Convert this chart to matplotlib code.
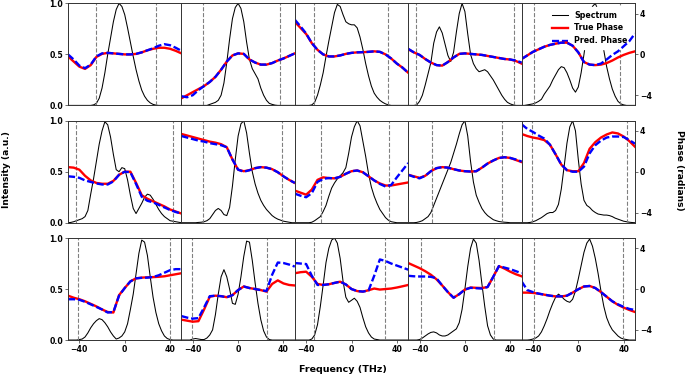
import numpy as np
import matplotlib
matplotlib.use("Agg")
import matplotlib.pyplot as plt
from matplotlib.lines import Line2D

# frequency grids (THz)
freq_spec = np.arange(-50, 50.01, 2.5)    # 41 points
freq_phase = np.arange(-50, 50.01, 5.0)   # 21 points

# ---------------- spectra (normalised intensity) ----------------
spec_00 = [0,0,0,0,0,0,0,0,0,0.005,0.02,0.07,0.17,0.32,0.5,0.66,0.82,0.94,1.0,0.97,0.89,0.76,0.62,0.48,0.35,0.24,0.15,0.09,0.05,0.025,0.01,0.003,0,0,0,0,0,0,0,0,0]
spec_01 = [0,0,0,0,0,0,0,0,0,0,0.01,0.02,0.03,0.05,0.1,0.22,0.42,0.65,0.85,0.96,1.0,0.95,0.82,0.62,0.45,0.36,0.31,0.26,0.17,0.1,0.05,0.02,0.01,0.003,0,0,0,0,0,0,0]
spec_02 = [0,0,0,0,0,0,0.005,0.03,0.1,0.2,0.32,0.48,0.63,0.77,0.91,0.99,0.97,0.89,0.82,0.8,0.79,0.79,0.76,0.67,0.55,0.41,0.29,0.19,0.12,0.08,0.05,0.03,0.015,0.005,0,0,0,0,0,0,0]
spec_03 = [0,0,0,0.005,0.04,0.1,0.2,0.31,0.42,0.61,0.72,0.77,0.71,0.6,0.49,0.43,0.52,0.72,0.9,1.0,0.92,0.7,0.5,0.41,0.36,0.33,0.34,0.35,0.33,0.29,0.25,0.2,0.15,0.1,0.06,0.03,0.015,0.005,0,0,0]
spec_04 = [0,0,0.005,0.01,0.015,0.025,0.04,0.06,0.11,0.15,0.19,0.25,0.3,0.35,0.38,0.37,0.32,0.25,0.17,0.13,0.18,0.32,0.5,0.7,0.86,0.97,1.0,0.93,0.76,0.54,0.38,0.26,0.16,0.09,0.04,0.015,0.005,0,0,0,0]
spec_10 = [0,0.003,0.01,0.02,0.03,0.04,0.06,0.12,0.28,0.43,0.6,0.77,0.9,0.99,0.96,0.84,0.67,0.52,0.5,0.54,0.53,0.42,0.27,0.14,0.09,0.14,0.19,0.25,0.28,0.27,0.23,0.18,0.13,0.09,0.06,0.04,0.02,0.015,0.01,0.005,0]
spec_11 = [0,0,0,0,0,0,0.003,0.005,0.01,0.02,0.04,0.08,0.12,0.14,0.12,0.08,0.07,0.15,0.36,0.62,0.85,0.97,1.0,0.88,0.68,0.5,0.38,0.29,0.22,0.17,0.13,0.1,0.07,0.05,0.035,0.025,0.015,0.01,0.005,0,0]
spec_12 = [0,0,0,0,0,0,0.005,0.02,0.04,0.06,0.11,0.17,0.26,0.34,0.39,0.43,0.46,0.49,0.54,0.68,0.84,0.94,1.0,0.95,0.8,0.65,0.48,0.35,0.26,0.19,0.13,0.09,0.05,0.025,0.01,0.005,0,0,0,0,0]
spec_13 = [0,0,0,0.003,0.01,0.02,0.04,0.06,0.1,0.17,0.24,0.31,0.38,0.45,0.52,0.59,0.68,0.77,0.87,0.96,1.0,0.85,0.6,0.4,0.27,0.2,0.14,0.1,0.07,0.05,0.03,0.02,0.012,0.008,0.005,0.003,0,0,0,0,0]
spec_14 = [0,0,0,0.003,0.01,0.02,0.035,0.05,0.07,0.09,0.1,0.1,0.12,0.18,0.33,0.55,0.78,0.94,1.0,0.9,0.62,0.38,0.22,0.17,0.15,0.12,0.1,0.085,0.08,0.075,0.075,0.07,0.06,0.045,0.035,0.025,0.015,0.01,0.005,0.002,0]
spec_20 = [0,0,0,0,0.005,0.01,0.03,0.07,0.12,0.16,0.19,0.21,0.2,0.17,0.13,0.08,0.04,0.01,0.02,0.04,0.08,0.16,0.3,0.45,0.65,0.85,0.98,0.96,0.83,0.62,0.42,0.27,0.16,0.09,0.04,0.015,0.005,0,0,0,0]
spec_21 = [0,0,0,0,0.01,0.015,0.01,0.005,0.005,0.02,0.05,0.1,0.25,0.45,0.62,0.69,0.62,0.5,0.36,0.35,0.45,0.62,0.82,0.97,0.96,0.78,0.56,0.36,0.2,0.09,0.03,0.005,0,0,0,0,0,0,0,0,0]
spec_22 = [0,0,0,0,0,0,0.01,0.05,0.15,0.33,0.54,0.76,0.9,0.98,1.0,0.95,0.8,0.58,0.42,0.37,0.39,0.41,0.38,0.32,0.22,0.13,0.07,0.03,0.01,0.005,0,0,0,0,0,0,0,0,0,0,0]
spec_23 = [0,0,0,0,0.005,0.02,0.04,0.06,0.075,0.08,0.07,0.05,0.04,0.04,0.05,0.07,0.09,0.11,0.17,0.3,0.5,0.72,0.9,0.99,0.95,0.78,0.55,0.33,0.14,0.05,0.01,0,0,0,0,0,0,0,0,0,0]
spec_24 = [0,0,0,0.003,0.01,0.02,0.04,0.08,0.14,0.21,0.29,0.36,0.42,0.45,0.43,0.4,0.38,0.37,0.4,0.48,0.6,0.73,0.86,0.95,0.99,0.92,0.8,0.65,0.48,0.33,0.22,0.15,0.1,0.07,0.04,0.02,0.01,0.005,0,0,0]

# ---------------- true phase (radians) ----------------
true_00 = [-0.2,-0.7,-1.2,-1.42,-1.05,-0.25,0.05,0.15,0.1,0.05,0.0,0.0,0.05,0.2,0.4,0.55,0.65,0.65,0.55,0.35,0.1]
true_01 = [-4.3,-4.0,-3.7,-3.4,-3.1,-2.7,-2.2,-1.5,-0.7,-0.1,0.1,0.05,-0.5,-0.8,-1.0,-1.0,-0.85,-0.6,-0.4,-0.15,0.1]
true_02 = [3.2,2.6,2.0,1.1,0.45,0.0,-0.2,-0.2,-0.1,0.05,0.15,0.2,0.22,0.25,0.3,0.25,0.0,-0.4,-0.9,-1.3,-1.8]
true_03 = [0.5,0.2,-0.05,-0.45,-0.8,-1.05,-1.1,-0.75,-0.3,0.05,0.1,0.05,0.0,-0.05,-0.15,-0.25,-0.35,-0.45,-0.5,-0.65,-0.9]
true_04 = [-0.45,-0.1,0.25,0.5,0.75,0.93,1.05,1.15,1.15,0.85,0.2,-0.75,-1.0,-1.05,-1.0,-0.85,-0.6,-0.3,-0.05,0.15,0.3]
true_10 = [0.45,0.4,0.2,-0.4,-0.85,-1.1,-1.18,-1.18,-0.9,-0.3,0.0,0.0,-1.1,-2.3,-2.65,-2.9,-3.15,-3.4,-3.7,-3.9,-4.1]
true_11 = [3.7,3.55,3.4,3.25,3.1,2.95,2.85,2.7,2.4,1.2,0.2,0.05,0.15,0.35,0.45,0.4,0.25,-0.05,-0.45,-0.8,-1.1]
true_12 = [-1.85,-2.05,-2.25,-1.75,-0.8,-0.55,-0.62,-0.65,-0.5,-0.2,0.05,0.12,-0.05,-0.45,-0.85,-1.15,-1.35,-1.35,-1.25,-1.15,-1.05]
true_13 = [-0.3,-0.45,-0.6,-0.4,0.05,0.35,0.45,0.4,0.25,0.12,0.05,0.02,0.05,0.4,0.8,1.1,1.35,1.42,1.35,1.15,0.95]
true_14 = [3.7,3.5,3.35,3.25,3.1,2.65,1.7,0.7,0.15,0.05,0.05,0.85,2.25,2.9,3.35,3.65,3.85,3.75,3.45,3.0,2.45]
true_20 = [-0.65,-0.85,-1.0,-1.2,-1.45,-1.7,-2.0,-2.25,-2.3,-0.6,0.1,0.75,1.05,1.12,1.15,1.17,1.2,1.25,1.35,1.45,1.55]
true_21 = [-3.0,-3.1,-3.2,-3.15,-2.0,-0.75,-0.65,-0.7,-0.8,-0.6,-0.1,0.25,0.1,0.0,-0.1,-0.25,0.5,0.85,0.55,0.4,0.35]
true_22 = [1.55,1.65,1.7,1.2,0.5,0.4,0.47,0.6,0.72,0.45,0.0,-0.2,-0.25,-0.12,0.05,-0.05,0.0,0.05,0.15,0.27,0.4]
true_23 = [2.55,2.3,2.05,1.75,1.4,0.95,0.35,-0.3,-0.85,-0.5,-0.05,0.15,0.12,0.1,0.2,1.2,2.25,2.0,1.7,1.45,1.25]
true_24 = [-0.35,-0.35,-0.38,-0.45,-0.55,-0.65,-0.72,-0.72,-0.65,-0.35,-0.02,0.25,0.3,0.1,-0.3,-0.75,-1.2,-1.55,-1.82,-2.05,-2.25]

# ---------------- predicted phase (radians) ----------------
pred_00 = [0.0,-0.5,-1.1,-1.35,-1.0,-0.2,0.1,0.15,0.1,0.05,0.0,0.0,0.05,0.2,0.4,0.6,0.85,1.0,0.9,0.65,0.35]
pred_01 = [-4.1,-4.2,-4.0,-3.5,-3.1,-2.7,-2.2,-1.5,-0.7,-0.1,0.1,0.05,-0.5,-0.8,-1.0,-1.0,-0.85,-0.6,-0.4,-0.15,0.1]
pred_02 = [3.4,2.75,2.05,1.1,0.45,0.0,-0.2,-0.2,-0.1,0.05,0.15,0.2,0.22,0.25,0.3,0.25,0.0,-0.4,-0.9,-1.3,-1.8]
pred_03 = [0.55,0.2,-0.05,-0.45,-0.8,-1.05,-1.1,-0.75,-0.3,0.05,0.1,0.05,0.0,-0.05,-0.15,-0.25,-0.35,-0.45,-0.5,-0.6,-0.8]
pred_04 = [-0.45,-0.1,0.25,0.5,0.75,0.93,1.05,1.15,1.15,0.85,0.2,-0.75,-1.0,-1.05,-0.9,-0.5,-0.05,0.3,0.8,1.3,2.05]
pred_10 = [-0.45,-0.5,-0.6,-0.85,-1.0,-1.15,-1.25,-1.25,-0.95,-0.3,0.0,-0.05,-1.2,-2.45,-2.85,-3.0,-3.25,-3.5,-3.75,-3.95,-4.1]
pred_11 = [3.5,3.35,3.2,3.05,2.95,2.8,2.7,2.6,2.4,1.2,0.2,0.0,0.15,0.35,0.45,0.4,0.25,-0.05,-0.45,-0.8,-1.1]
pred_12 = [-2.15,-2.35,-2.5,-2.1,-1.0,-0.7,-0.62,-0.65,-0.5,-0.2,0.05,0.12,-0.05,-0.45,-0.85,-1.2,-1.45,-1.3,-0.55,0.15,0.85]
pred_13 = [-0.3,-0.5,-0.65,-0.4,0.05,0.35,0.45,0.4,0.25,0.12,0.05,0.02,0.05,0.4,0.8,1.1,1.35,1.42,1.35,1.2,1.0]
pred_14 = [4.65,4.2,3.9,3.55,3.25,2.65,1.7,0.7,0.15,0.0,0.0,0.5,1.8,2.6,3.05,3.35,3.45,3.45,3.4,3.1,2.75]
pred_20 = [-1.0,-1.0,-1.05,-1.25,-1.5,-1.75,-2.0,-2.3,-2.25,-0.65,0.1,0.75,1.05,1.1,1.12,1.18,1.35,1.6,1.85,1.95,1.95]
pred_21 = [-2.65,-2.8,-2.9,-2.85,-1.8,-0.7,-0.65,-0.7,-0.8,-0.6,-0.1,0.25,0.1,0.0,-0.1,-0.2,1.4,2.6,2.55,2.4,2.2]
pred_22 = [2.55,2.5,2.45,1.3,0.4,0.4,0.47,0.6,0.72,0.45,0.0,-0.2,-0.25,-0.15,1.3,2.9,2.75,2.5,2.3,2.1,1.9]
pred_23 = [1.3,1.25,1.23,1.23,1.2,1.05,0.35,-0.3,-0.85,-0.5,-0.05,0.12,0.08,0.05,0.2,1.2,2.25,2.1,1.95,1.75,1.55]
pred_24 = [0.75,-0.1,-0.3,-0.45,-0.55,-0.65,-0.72,-0.72,-0.65,-0.35,-0.02,0.25,0.3,0.1,-0.3,-0.75,-1.2,-1.5,-1.75,-1.95,-2.05]

# ---------------- dashed cut-off frequencies (THz) ----------------
cuts_row0 = [[-25, 28], [-31, 37], [-33, 32], [-43, 43], [-39, 37]]
cuts_row1 = [[-43, 43], [-31, 39], [-27, 33], [-29, 33], [-41, 43]]
cuts_row2 = [[-41, 40], [-41, 25.5], [-33, 29.5], [-39, 26], [-39, 39]]

x_ticks = [-40, 0, 40]
int_ticks = [0.0, 0.5, 1.0]
phase_ticks = [-4, 0, 4]
legend_labels = ["Spectrum", "True Phase", "Pred. Phase"]

spectra = [[spec_00, spec_01, spec_02, spec_03, spec_04],
           [spec_10, spec_11, spec_12, spec_13, spec_14],
           [spec_20, spec_21, spec_22, spec_23, spec_24]]
trues = [[true_00, true_01, true_02, true_03, true_04],
         [true_10, true_11, true_12, true_13, true_14],
         [true_20, true_21, true_22, true_23, true_24]]
preds = [[pred_00, pred_01, pred_02, pred_03, pred_04],
         [pred_10, pred_11, pred_12, pred_13, pred_14],
         [pred_20, pred_21, pred_22, pred_23, pred_24]]
cuts = [cuts_row0, cuts_row1, cuts_row2]

plt.rcParams["font.family"] = ["DejaVu Sans"]
plt.rcParams["font.weight"] = "bold"

fig = plt.figure(figsize=(6.85, 3.77), dpi=100)
gs = fig.add_gridspec(3, 5, left=0.0993, right=0.927, top=0.991, bottom=0.098,
                      wspace=0, hspace=0.15)

SPINE = "#333333"
TICK_FS = 5.6
blue_dash = (0, (3, 1.2))

for r in range(3):
    for c in range(5):
        ax = fig.add_subplot(gs[r, c])
        ax.plot(freq_spec, spectra[r][c], color="black", lw=0.75)
        for xv in cuts[r][c]:
            ax.axvline(xv, color="#808080", ls="--", lw=0.8)
        ax.set_xlim(-50, 50)
        ax.set_ylim(0, 1)

        ax2 = ax.twinx()
        ax2.plot(freq_phase, trues[r][c], color="red", lw=1.7)
        ax2.plot(freq_phase, preds[r][c], color="blue", lw=1.7, ls=blue_dash)
        ax2.set_ylim(-5, 5)

        for a in (ax, ax2):
            for s in a.spines.values():
                s.set_color(SPINE)
                s.set_linewidth(0.6)
            a.tick_params(labelsize=TICK_FS, length=2, width=0.5, pad=1.5, color=SPINE)

        if c == 0:
            ax.set_yticks(int_ticks)
        else:
            ax.set_yticks([])
        if c == 4:
            ax2.set_yticks(phase_ticks)
        else:
            ax2.set_yticks([])
        if r == 2:
            ax.set_xticks(x_ticks)
        else:
            ax.set_xticks([])

        if r == 0 and c == 4:
            handles = [Line2D([], [], color="black", lw=0.75),
                       Line2D([], [], color="red", lw=1.7),
                       Line2D([], [], color="blue", lw=1.7, ls=blue_dash)]
            leg = ax.legend(handles, legend_labels, loc="upper right", fontsize=5.7,
                            frameon=True, framealpha=1, facecolor="white",
                            edgecolor="white", fancybox=False)

fig.text(0.0088, 0.549, "Intensity (a.u.)", rotation=90, ha="center", va="center",
         fontsize=6.6, fontweight="bold")
fig.text(0.9927, 0.549, "Phase (radians)", rotation=270, ha="center", va="center",
         fontsize=6.6, fontweight="bold")
fig.text(0.5, 0.0186, "Frequency (THz)", ha="center", va="center",
         fontsize=6.8, fontweight="bold")

fig.savefig("out.png", dpi=100)
